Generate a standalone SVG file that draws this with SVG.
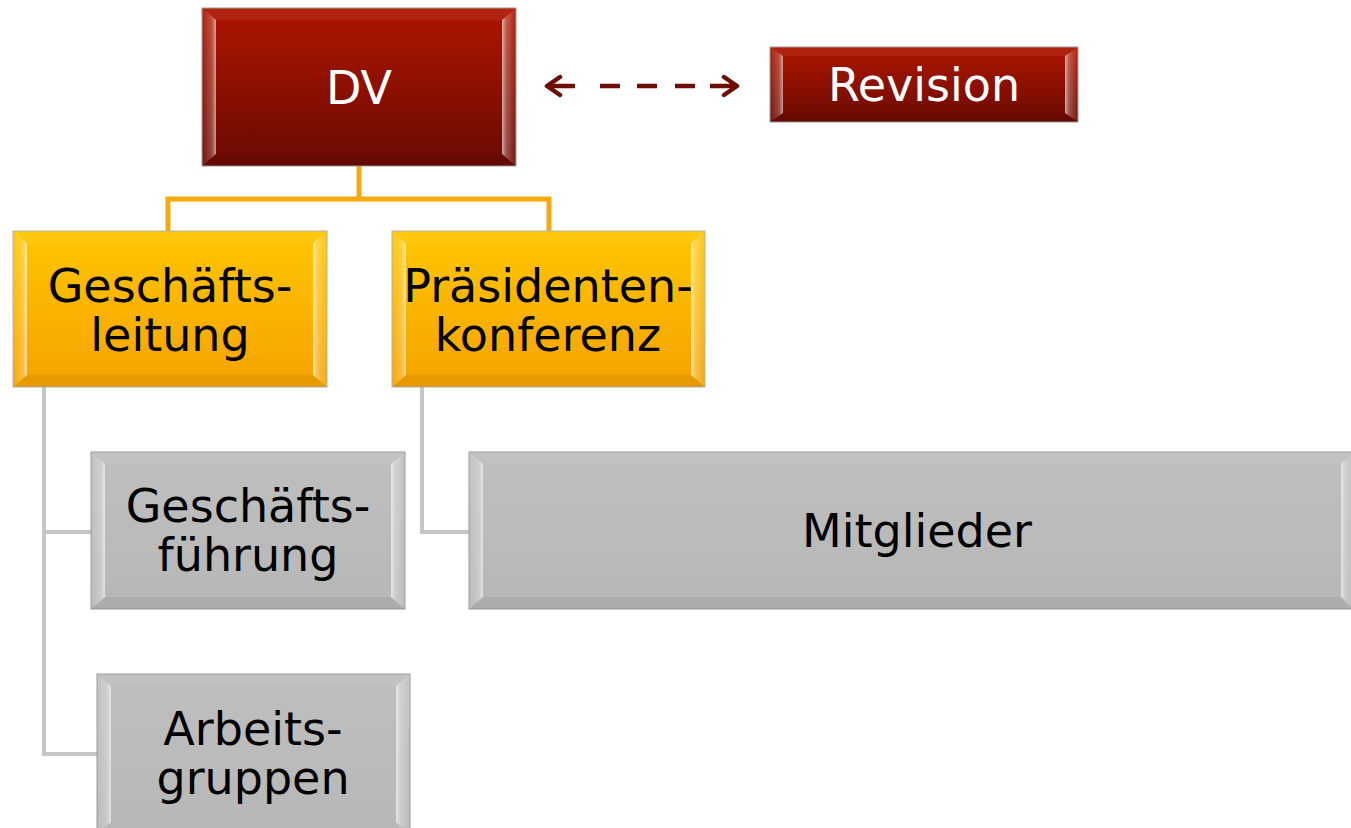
<svg xmlns="http://www.w3.org/2000/svg" width="1351" height="828" viewBox="0 0 1351 828">
<defs>
<linearGradient id="gRed" x1="0" y1="0" x2="0" y2="1"><stop offset="0" stop-color="#ae1600"/><stop offset="1" stop-color="#6a0a02"/></linearGradient>
<linearGradient id="gYel" x1="0" y1="0" x2="0" y2="1"><stop offset="0" stop-color="#ffc600"/><stop offset="1" stop-color="#f5a200"/></linearGradient>
<linearGradient id="gGry" x1="0" y1="0" x2="0" y2="1"><stop offset="0" stop-color="#bfbfbf"/><stop offset="1" stop-color="#b7b7b7"/></linearGradient>
<linearGradient id="bL" x1="0" y1="0" x2="1" y2="0"><stop offset="0" stop-color="#fff" stop-opacity="0.05"/><stop offset="0.7" stop-color="#fff" stop-opacity="0.25"/><stop offset="1" stop-color="#fff" stop-opacity="0.6"/></linearGradient>
<linearGradient id="bR" x1="1" y1="0" x2="0" y2="0"><stop offset="0" stop-color="#fff" stop-opacity="0.05"/><stop offset="0.7" stop-color="#fff" stop-opacity="0.3"/><stop offset="1" stop-color="#fff" stop-opacity="0.65"/></linearGradient>
<marker id="chev" viewBox="0 0 20 24" refX="17" refY="12" markerWidth="20" markerHeight="24" markerUnits="userSpaceOnUse" orient="auto-start-reverse">
<path d="M4,3 L17,12 L4,21" fill="none" stroke="#6e0d05" stroke-width="4.5" stroke-linecap="round" stroke-linejoin="round"/>
</marker>
<style>
.red{fill:url(#gRed);stroke:#9a9a9a;stroke-width:1}
.yel{fill:url(#gYel);stroke:#b0b0b0;stroke-width:1}
.gry{fill:url(#gGry);stroke:#999;stroke-width:1}
.bl{fill:url(#bL)}
.br{fill:url(#bR)}
.bt{fill:#fff;fill-opacity:0.06}
.bb{fill:#000;fill-opacity:0.06}
.t{font-family:"DejaVu Sans",sans-serif;font-size:46px;text-anchor:middle;fill:#000}
.w{fill:#fff}
.oc{fill:none;stroke:#f5a90c;stroke-width:5}
.gc{fill:none;stroke:#c6c6c6;stroke-width:4}
</style>
</defs>
<rect width="1351" height="828" fill="#fff"/>

<g id="connectors">
<path class="oc" d="M359,166 V199 M168,231 V199 H549 V231"/>
<path class="gc" d="M44,387 V754 H97 M44,532 H91"/>
<path class="gc" d="M422,387 V532 H469"/>
<line x1="547" y1="86" x2="737" y2="86" stroke="#6e0d05" stroke-width="4.5" stroke-dasharray="28 25 20 17 20 18 20 15 40" marker-start="url(#chev)" marker-end="url(#chev)"/>
</g>

<g id="node-dv">
<rect class="red" x="202" y="8" width="314" height="158"/>
<polygon class="bl" points="202,8 216,20 216,154 202,166"/>
<polygon class="br" points="516,8 502,20 502,154 516,166"/>
<polygon class="bt" points="202,8 516,8 502,20 216,20"/>
<polygon class="bb" points="202,166 516,166 502,154 216,154"/>
<text class="t w" x="359" y="104" font-size="48">DV</text>
</g>

<g id="node-revision">
<rect class="red" x="770" y="47" width="308" height="75"/>
<polygon class="bl" points="770,47 783,56 783,113 770,122"/>
<polygon class="br" points="1078,47 1065,56 1065,113 1078,122"/>
<polygon class="bt" points="770,47 1078,47 1065,56 783,56"/>
<polygon class="bb" points="770,122 1078,122 1065,113 783,113"/>
<text class="t w" x="924" y="101" font-size="44">Revision</text>
</g>

<g id="node-geschaeftsleitung">
<rect class="yel" x="13" y="231" width="314" height="156"/>
<polygon class="bl" points="13,231 27,243 27,375 13,387"/>
<polygon class="br" points="327,231 313,243 313,375 327,387"/>
<polygon class="bt" points="13,231 327,231 313,243 27,243"/>
<polygon class="bb" points="13,387 327,387 313,375 27,375"/>
<text class="t" x="170" y="302">Geschäfts-</text>
<text class="t" x="170" y="351">leitung</text>
</g>

<g id="node-praesidentenkonferenz">
<rect class="yel" x="392" y="231" width="313" height="156"/>
<polygon class="bl" points="392,231 406,243 406,375 392,387"/>
<polygon class="br" points="705,231 691,243 691,375 705,387"/>
<polygon class="bt" points="392,231 705,231 691,243 406,243"/>
<polygon class="bb" points="392,387 705,387 691,375 406,375"/>
<text class="t" x="548" y="302">Präsidenten-</text>
<text class="t" x="548" y="351">konferenz</text>
</g>

<g id="node-geschaeftsfuehrung">
<rect class="gry" x="91" y="452" width="314" height="157"/>
<polygon class="bl" points="91,452 105,464 105,597 91,609"/>
<polygon class="br" points="405,452 391,464 391,597 405,609"/>
<polygon class="bt" points="91,452 405,452 391,464 105,464"/>
<polygon class="bb" points="91,609 405,609 391,597 105,597"/>
<text class="t" x="248" y="522">Geschäfts-</text>
<text class="t" x="248" y="571">führung</text>
</g>

<g id="node-mitglieder">
<rect class="gry" x="469" y="452" width="884" height="157"/>
<polygon class="bl" points="469,452 483,464 483,597 469,609"/>
<polygon class="br" points="1353,452 1341,464 1341,597 1353,609"/>
<polygon class="bt" points="469,452 1353,452 1341,464 483,464"/>
<polygon class="bb" points="469,609 1353,609 1341,597 483,597"/>
<text class="t" x="917" y="547">Mitglieder</text>
</g>

<g id="node-arbeitsgruppen">
<rect class="gry" x="97" y="674" width="313" height="160"/>
<polygon class="bl" points="97,674 111,686 111,822 97,834"/>
<polygon class="br" points="410,674 396,686 396,822 410,834"/>
<polygon class="bt" points="97,674 410,674 396,686 111,686"/>
<text class="t" x="253" y="745">Arbeits-</text>
<text class="t" x="253" y="794">gruppen</text>
</g>
</svg>
